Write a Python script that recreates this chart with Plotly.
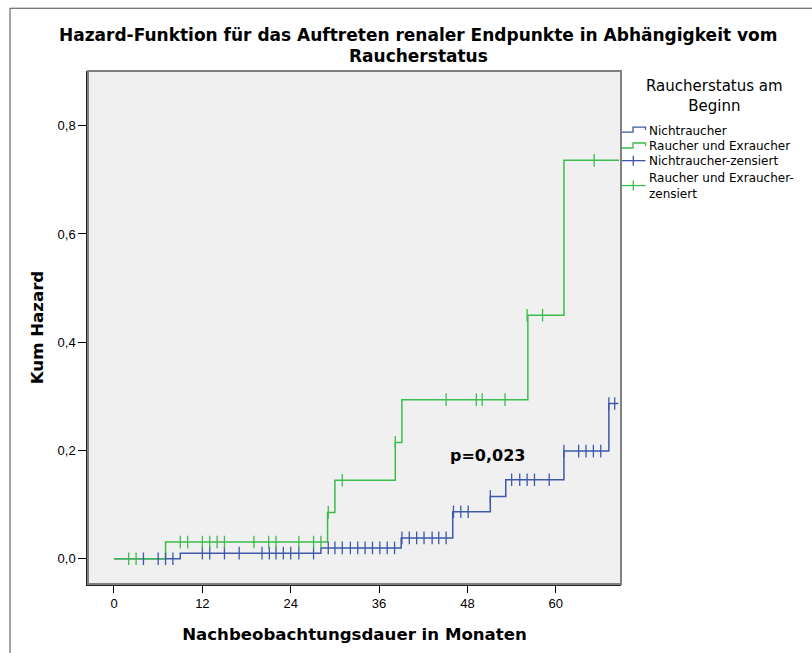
import plotly.graph_objects as go

# Cumulative hazard step curves (months, hazard)
nicht_t = [0, 9.0, 28.1, 39.0, 46.0, 51.1, 53.2, 61.1, 67.2, 68.5]
nicht_h = [0, 0.0105, 0.0202, 0.0386, 0.087, 0.115, 0.146, 0.199, 0.287, 0.287]

raucher_t = [0, 7.0, 29.0, 30.0, 38.2, 39.1, 56.2, 61.1, 68.6]
raucher_h = [0, 0.031, 0.0857, 0.145, 0.215, 0.294, 0.45, 0.736, 0.736]

# Censored observations
nicht_c_t = [4.0, 6.0, 7.0, 8.0,
             12.0, 13.0, 15.0, 17.0, 20.1, 21.1, 22.0, 23.0, 24.0, 25.1, 27.1,
             29.1, 30.0, 31.0, 32.1, 33.1, 34.1, 35.1, 36.1, 37.1, 38.1,
             39.1, 40.1, 41.1, 42.1, 43.2, 44.1, 45.1,
             46.1, 47.1, 48.1,
             51.1,
             54.0, 55.1, 56.1, 57.1, 59.1,
             61.1, 63.1, 64.1, 65.1, 66.1,
             67.2, 68.0]
nicht_c_h = [0, 0, 0, 0,
             0.0105, 0.0105, 0.0105, 0.0105, 0.0105, 0.0105, 0.0105, 0.0105, 0.0105, 0.0105, 0.0105,
             0.0202, 0.0202, 0.0202, 0.0202, 0.0202, 0.0202, 0.0202, 0.0202, 0.0202, 0.0202,
             0.0386, 0.0386, 0.0386, 0.0386, 0.0386, 0.0386, 0.0386,
             0.087, 0.087, 0.087,
             0.115,
             0.146, 0.146, 0.146, 0.146, 0.146,
             0.199, 0.199, 0.199, 0.199, 0.199,
             0.287, 0.287]

raucher_c_t = [2.0, 3.0,
               9.0, 10.0, 12.0, 13.0, 14.0, 15.0, 19.0, 21.0, 22.0, 25.1, 27.1, 28.1,
               29.1, 31.0, 38.2,
               45.1, 49.2, 50.0, 53.1,
               56.1, 58.2,
               65.2]
raucher_c_h = [0, 0,
               0.031, 0.031, 0.031, 0.031, 0.031, 0.031, 0.031, 0.031, 0.031, 0.031, 0.031, 0.031,
               0.0857, 0.145, 0.215,
               0.294, 0.294, 0.294, 0.294,
               0.45, 0.45,
               0.736]

x_ticks = [0, 12, 24, 36, 48, 60]
y_ticks = [0.0, 0.2, 0.4, 0.6, 0.8]
p_text = "p=0,023"
legend_title = "Raucherstatus am<br>Beginn"
legend_names = ["Nichtraucher", "Raucher und Exraucher",
                "Nichtraucher-zensiert", "Raucher und Exraucher-<br>zensiert"]

BLUE = "#3E58AC"
GREEN = "#3DBB4E"
SANS = "Liberation Sans, Arial, sans-serif"
WIDE = "DejaVu Sans, Verdana, sans-serif"

L, R, T, B = 88, 191, 71, 67
W, H = 812, 653
pw, ph = W - L - R, H - T - B


def px(x):
    # pixel column -> paper x
    return (x - L) / pw


def py(y):
    # pixel row -> paper y
    return (T + ph - y) / ph


fig = go.Figure()

fig.add_trace(go.Scatter(x=nicht_t, y=nicht_h, mode="lines", line_shape="hv",
                         line=dict(color=BLUE, width=1.5), name=legend_names[0]))
fig.add_trace(go.Scatter(x=raucher_t, y=raucher_h, mode="lines", line_shape="hv",
                         line=dict(color=GREEN, width=1.5), name=legend_names[1]))

fig.add_trace(go.Scatter(x=nicht_c_t, y=nicht_c_h, mode="markers",
                         marker=dict(symbol="line-ns-open", size=9, color=BLUE,
                                     line=dict(color=BLUE, width=1.3)),
                         name=legend_names[2]))
fig.add_trace(go.Scatter(x=raucher_c_t, y=raucher_c_h, mode="markers",
                         marker=dict(symbol="line-ns-open", size=9, color=GREEN,
                                     line=dict(color=GREEN, width=1.3)),
                         name=legend_names[3]))

fig.add_annotation(x=50.7, y=0.19, text="<b>" + p_text + "</b>", showarrow=False,
                   font=dict(family=WIDE, size=16, color="black"))

# title, drawn as two centred lines
fig.add_annotation(xref="paper", yref="paper", x=px(418), y=py(35), xanchor="center",
                   yanchor="middle", showarrow=False,
                   text="<b>Hazard-Funktion für das Auftreten renaler Endpunkte in Abhängigkeit vom</b>",
                   font=dict(family=WIDE, size=17, color="black"))
fig.add_annotation(xref="paper", yref="paper", x=px(418), y=py(56), xanchor="center",
                   yanchor="middle", showarrow=False,
                   text="<b>Raucherstatus</b>",
                   font=dict(family=WIDE, size=17, color="black"))

# legend block
fig.add_annotation(xref="paper", yref="paper", x=px(714), y=py(96), xanchor="center",
                   yanchor="middle", showarrow=False, align="center", text=legend_title,
                   font=dict(family=WIDE, size=15, color="black"))
label_rows = [(legend_names[0], 131), (legend_names[1], 146.5), (legend_names[2], 161.5),
              (legend_names[3], 186.5)]
for txt, yy in label_rows:
    fig.add_annotation(xref="paper", yref="paper", x=px(647), y=py(yy), xanchor="left",
                       yanchor="middle", showarrow=False, align="left", text=txt,
                       font=dict(family=WIDE, size=12, color="black"))


def step_icon(y_low, color):
    y_high = y_low - 5
    path = (f"M {px(621)} {py(y_low)} L {px(633)} {py(y_low)} L {px(633)} {py(y_high)} "
            f"L {px(645.5)} {py(y_high)} L {px(645.5)} {py(y_high + 3)}")
    fig.add_shape(type="path", xref="paper", yref="paper", path=path,
                  line=dict(color=color, width=1.3))


def cens_icon(y_mid, color):
    fig.add_shape(type="line", xref="paper", yref="paper", x0=px(621), x1=px(645.5),
                  y0=py(y_mid), y1=py(y_mid), line=dict(color=color, width=1.3))
    fig.add_shape(type="line", xref="paper", yref="paper", x0=px(633.3), x1=px(633.3),
                  y0=py(y_mid - 5), y1=py(y_mid + 5), line=dict(color=color, width=1.3))


step_icon(132.3, BLUE)
step_icon(148.3, GREEN)
cens_icon(161, BLUE)
cens_icon(186, GREEN)

# outer chart frame
fig.add_shape(type="rect", xref="paper", yref="paper",
              x0=px(10), x1=px(W + 5), y0=py(H + 5), y1=py(8),
              line=dict(color="#4a4a4a", width=1), layer="below")
# plot area frame
fig.add_shape(type="rect", xref="paper", yref="paper", x0=0, x1=1, y0=0, y1=1,
              line=dict(color="#808080", width=2), layer="above")

fig.update_layout(
    width=W, height=H,
    margin=dict(l=L, r=R, t=T, b=B),
    paper_bgcolor="white",
    plot_bgcolor="#F0F0F0",
    separators=",.",
    showlegend=False,
    font=dict(family=SANS, size=13, color="black"),
    xaxis=dict(range=[-3.53, 68.85], tickvals=x_ticks, showgrid=False, zeroline=False,
               ticks="outside", ticklen=7, tickcolor="black", tickwidth=1,
               showline=True, linecolor="#222222", linewidth=1.5,
               tickfont=dict(family=SANS, size=13),
               title=dict(text="<b>Nachbeobachtungsdauer in Monaten</b>", standoff=18,
                          font=dict(family=WIDE, size=16.6))),
    yaxis=dict(range=[-0.0465, 0.901], tickvals=y_ticks, tickformat=".1f",
               showgrid=False, zeroline=False,
               ticks="outside", ticklen=8, tickcolor="black", tickwidth=1,
               showline=True, linecolor="#222222", linewidth=1.5,
               tickfont=dict(family=SANS, size=13),
               title=dict(text="<b>Kum Hazard</b>", standoff=10,
                          font=dict(family=WIDE, size=16.6))),
)

fig.write_html("out.html")
